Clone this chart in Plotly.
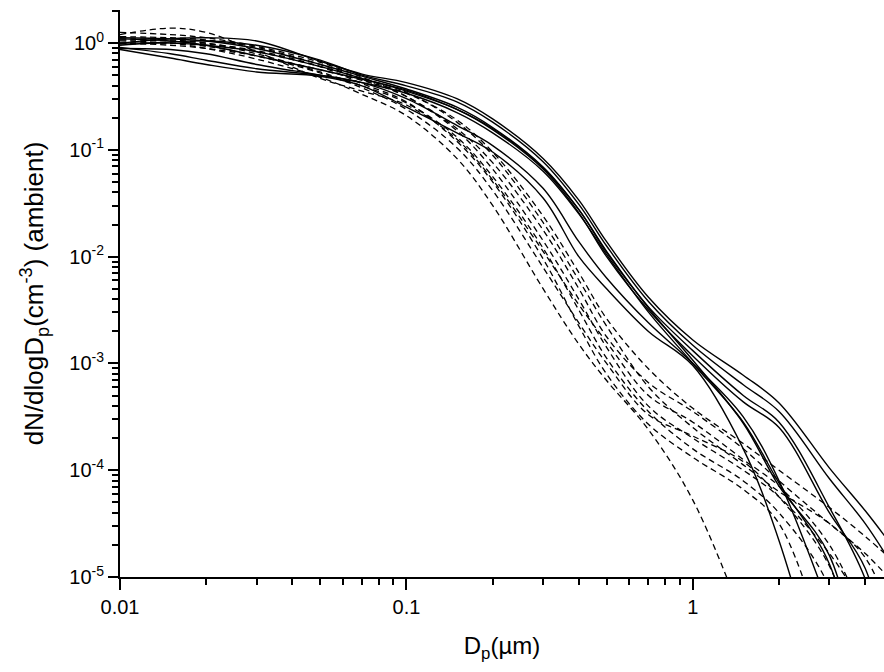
import numpy as np
import plotly.graph_objects as go

# particle diameter (um) at which the curves were read
dp = [0.01, 0.015, 0.02, 0.03, 0.05, 0.07, 0.1, 0.15, 0.2, 0.3, 0.4, 0.5,
      0.7, 1.0, 1.5, 2.0, 3.0, 4.0, 5.0]

# log10 of dN/dlogDp (None = curve already below 1e-5)
solid_a = [-0.06, -0.14, -0.20, -0.27, -0.31, -0.40, -0.60, -0.84, -1.02, -1.45, -2.00, -2.30,
           -2.70, -3.02, -3.80, -4.66, -6.3, None, None]
solid_b = [-0.04, -0.10, -0.16, -0.24, -0.30, -0.37, -0.52, -0.77, -0.96, -1.36, -1.86, -2.20,
           -2.62, -3.00, -3.50, -4.10, -5.30, None, None]
solid_c = [-0.05, -0.06, -0.10, -0.20, -0.30, -0.37, -0.47, -0.65, -0.84, -1.20, -1.60, -1.98,
           -2.52, -3.00, -3.55, -4.12, -4.88, -6.2, None]
solid_d = [0.04, 0.02, -0.02, -0.12, -0.25, -0.34, -0.44, -0.62, -0.80, -1.17, -1.56, -1.95,
           -2.48, -2.97, -3.56, -4.15, -4.80, -6.2, None]
solid_e = [0.05, 0.04, 0.02, -0.05, -0.20, -0.31, -0.43, -0.60, -0.79, -1.16, -1.56, -1.96,
           -2.47, -2.88, -3.30, -3.55, -4.35, -5.02, -6.0]
solid_f = [0.00, 0.00, -0.02, -0.08, -0.22, -0.33, -0.45, -0.62, -0.81, -1.18, -1.59, -2.00,
           -2.50, -2.93, -3.36, -3.60, -4.40, -4.92, -6.0]
solid_g = [0.00, 0.04, 0.05, 0.02, -0.17, -0.29, -0.37, -0.52, -0.71, -1.08, -1.47, -1.86,
           -2.38, -2.78, -3.11, -3.37, -3.98, -4.38, -4.72]
solid_h = [-0.02, 0.01, 0.02, -0.02, -0.16, -0.30, -0.40, -0.55, -0.74, -1.11, -1.51, -1.90,
           -2.42, -2.83, -3.20, -3.45, -4.08, -4.50, -4.90]

dash_1 = [0.02, 0.00, -0.05, -0.15, -0.32, -0.48, -0.68, -1.08, -1.52, -2.30, -2.82, -3.16,
          -3.62, -4.28, -5.40, None, None, None, None]
dash_2 = [0.08, 0.14, 0.10, -0.08, -0.33, -0.45, -0.58, -0.90, -1.28, -1.95, -2.45, -2.80,
          -3.30, -3.55, -3.90, -4.15, -4.70, -5.40, None]
dash_3 = [-0.01, 0.00, -0.01, -0.07, -0.22, -0.38, -0.55, -0.92, -1.30, -2.02, -2.65, -3.10,
          -3.57, -3.88, -4.18, -4.50, -5.80, None, None]
dash_4 = [0.00, -0.02, -0.05, -0.12, -0.25, -0.35, -0.47, -0.72, -1.02, -1.62, -2.15, -2.58,
          -3.05, -3.42, -3.75, -4.00, -4.35, -4.62, -4.85]
dash_5 = [0.06, 0.05, 0.03, -0.04, -0.20, -0.34, -0.50, -0.80, -1.12, -1.75, -2.30, -2.75,
          -3.18, -3.45, -3.80, -4.10, -4.50, -4.78, -5.05]
dash_6 = [0.03, 0.02, 0.00, -0.08, -0.22, -0.33, -0.46, -0.74, -1.05, -1.68, -2.22, -2.65,
          -3.22, -3.60, -3.95, -4.20, -4.50, -4.82, -5.40]
dash_7 = [0.10, 0.08, 0.05, -0.03, -0.18, -0.32, -0.50, -0.82, -1.18, -1.85, -2.40, -2.85,
          -3.40, -3.70, -4.00, -4.25, -4.78, -5.30, None]
dash_8 = [0.04, 0.03, 0.00, -0.10, -0.27, -0.40, -0.56, -0.88, -1.25, -1.92, -2.50, -2.95,
          -3.45, -3.80, -4.10, -4.40, -5.10, -6.5, None]
dash_9 = [0.00, 0.00, -0.03, -0.12, -0.28, -0.42, -0.62, -0.98, -1.38, -2.10, -2.62, -3.00,
          -3.48, -3.68, -3.92, -4.25, -4.90, -6.0, None]

solid_curves = [solid_a, solid_b, solid_c, solid_d, solid_e, solid_f, solid_g, solid_h]
dashed_curves = [dash_1, dash_2, dash_3, dash_4, dash_5, dash_6, dash_7, dash_8, dash_9]

y_ticks = [1e-5, 1e-4, 1e-3, 1e-2, 1e-1, 1]
y_labels = ["10<sup>-5</sup>", "10<sup>-4</sup>", "10<sup>-3</sup>", "10<sup>-2</sup>",
            "10<sup>-1</sup>", "10<sup>0</sup>"]
x_ticks = [0.01, 0.1, 1]
x_labels = ["0.01", "0.1", "1"]


def to_values(logs):
    return [None if v is None else 10 ** v for v in logs]


fig = go.Figure()

for c in dashed_curves:
    fig.add_trace(go.Scatter(x=dp, y=to_values(c), mode="lines",
                             line=dict(color="black", width=1.3, dash="6px,4px",
                                       shape="spline", smoothing=1.0),
                             showlegend=False, hoverinfo="skip"))

for c in solid_curves:
    fig.add_trace(go.Scatter(x=dp, y=to_values(c), mode="lines",
                             line=dict(color="black", width=1.4, shape="spline", smoothing=1.0),
                             showlegend=False, hoverinfo="skip"))

# minor tick positions 2..9 in each decade
x_minor = [m * 10.0 ** k for k in (-2, -1, 0) for m in range(2, 10)]
y_minor = [m * 10.0 ** k for k in range(-5, 1) for m in range(2, 10)]

font = "Liberation Sans, Arial, sans-serif"

fig.update_layout(
    width=884, height=672,
    margin=dict(l=120, r=0, t=10, b=95),
    plot_bgcolor="white", paper_bgcolor="white",
    font=dict(family=font, color="black"),
)

fig.update_xaxes(
    type="log", range=[-2, np.log10(4.65)],
    tickmode="array", tickvals=x_ticks, ticktext=x_labels,
    ticks="outside", ticklen=11, tickwidth=2, tickcolor="black",
    minor=dict(tickmode="array", tickvals=x_minor, ticks="outside", ticklen=6,
               tickwidth=1.5, tickcolor="black", showgrid=False),
    showline=True, linecolor="black", linewidth=2,
    showgrid=False, zeroline=False,
    tickfont=dict(size=20, family=font),
    title=dict(text="D<sub>p</sub>(\u00b5m)", font=dict(size=24, family=font), standoff=20),
)

fig.update_yaxes(
    type="log", range=[-5, 0.31],
    tickmode="array", tickvals=y_ticks, ticktext=y_labels,
    ticks="outside", ticklen=10, tickwidth=2, tickcolor="black",
    minor=dict(tickmode="array", tickvals=y_minor, ticks="outside", ticklen=6,
               tickwidth=1.5, tickcolor="black", showgrid=False),
    showline=True, linecolor="black", linewidth=2,
    showgrid=False, zeroline=False,
    tickfont=dict(size=20, family=font),
    title=dict(text="dN/dlogD<sub>p</sub>(cm<sup>-3</sup>) (ambient)",
               font=dict(size=26, family=font), standoff=18),
)

# drop the default page margin so the 884x672 figure fills the window exactly
fig.write_html("out.html", config={"displayModeBar": False},
               post_script="document.body.style.margin='0';")
